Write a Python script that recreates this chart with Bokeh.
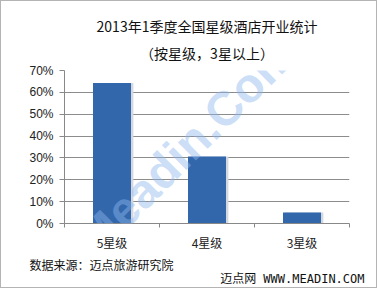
from bokeh.plotting import figure
from bokeh.models import (Range1d, FixedTicker, NumeralTickFormatter, Label,
                          ColumnDataSource, Title)
from bokeh.transform import dodge
from bokeh.embed import file_html
from bokeh.resources import INLINE

# data
categories = ["5星级", "4星级", "3星级"]
shares = [0.643, 0.307, 0.050]
y_ticks = [0, 0.1, 0.2, 0.3, 0.4, 0.5, 0.6, 0.7]
title_text = "2013年1季度全国星级酒店开业统计"
subtitle_text = "（按星级，3星以上）"
source_text = "数据来源：迈点旅游研究院"
footer_text = "迈点网 WWW.MEADIN.COM"
watermark_text = "Meadin.Com"

positions = [i + 0.5 for i in range(len(categories))]
src = ColumnDataSource(dict(x=positions, top=shares))

p = figure(width=377, height=288, output_backend="svg", toolbar_location=None,
           x_range=Range1d(0, len(categories)), y_range=Range1d(0, 0.7),
           min_border_left=63, min_border_right=29, min_border_top=69,
           min_border_bottom=66)
p.outline_line_color = None
p.background_fill_color = "white"
p.border_fill_color = "white"
p.styles = {"border": "1px solid #b4b4b4", "box-sizing": "border-box"}

# bar shadow then bar
p.vbar(x=dodge("x", 0.025, range=p.x_range), top="top", width=0.4, source=src,
       fill_color="#d3d7de", line_color=None)
p.vbar(x="x", top="top", width=0.4, source=src,
       fill_color="#3367ac", line_color=None)

# axes
p.yaxis.ticker = FixedTicker(ticks=y_ticks)
p.yaxis.formatter = NumeralTickFormatter(format="0%")
p.yaxis.major_tick_out = 5
p.yaxis.major_tick_in = 0
p.yaxis.minor_tick_line_color = None
p.yaxis.axis_line_color = "#888888"
p.yaxis.major_tick_line_color = "#888888"
p.yaxis.major_label_standoff = 6
p.yaxis.major_label_text_font = "Liberation Sans"
p.yaxis.major_label_text_font_size = "12px"
p.yaxis.major_label_text_color = "#222222"

p.xaxis.ticker = FixedTicker(ticks=positions,
                             minor_ticks=list(range(len(categories) + 1)))
p.xaxis.major_label_overrides = {pos: c for pos, c in zip(positions, categories)}
p.xaxis.major_tick_line_color = None
p.xaxis.major_tick_out = 0
p.xaxis.major_tick_in = 0
p.xaxis.minor_tick_out = 4
p.xaxis.minor_tick_in = 0
p.xaxis.minor_tick_line_color = "#888888"
p.xaxis.axis_line_color = "#888888"
p.xaxis.major_label_standoff = 6
p.xaxis.major_label_text_font = "Noto Sans CJK SC"
p.xaxis.major_label_text_font_size = "12px"
p.xaxis.major_label_text_color = "#222222"

p.xgrid.grid_line_color = None
p.ygrid.grid_line_color = "#8c8c8c"
p.ygrid.grid_line_width = 1

# watermark (frame-relative screen units)
p.add_layout(Label(x=122, y=77, x_units="screen", y_units="screen",
                   text=watermark_text, angle=0.785, text_align="center",
                   text_baseline="middle", text_font="Liberation Sans",
                   text_font_style="bold", text_font_size="48px",
                   text_color="#8db8ee", text_alpha=0.45))

# titles (added inner first)
p.add_layout(Title(text=subtitle_text, align="center", text_font="Noto Sans CJK SC",
                   text_font_size="14px", text_font_style="normal",
                   text_color="#111111", standoff=16), "above")
p.add_layout(Title(text=title_text, align="center", text_font="Noto Sans CJK SC",
                   text_font_size="14px", text_font_style="normal",
                   text_color="#111111", standoff=-7), "above")

# notes below
p.add_layout(Title(text=source_text, align="left", offset=-35,
                   text_font="Noto Sans CJK SC", text_font_size="12px",
                   text_font_style="normal", text_color="#111111", standoff=0),
             "below")
p.add_layout(Title(text=footer_text, align="right", offset=-15,
                   text_font="'DejaVu Sans Mono', 'Noto Sans CJK SC'",
                   text_font_size="12px",
                   text_font_style="normal", text_color="#111111", standoff=-5),
             "below")

open("out.html", "w").write(file_html(p, INLINE))
